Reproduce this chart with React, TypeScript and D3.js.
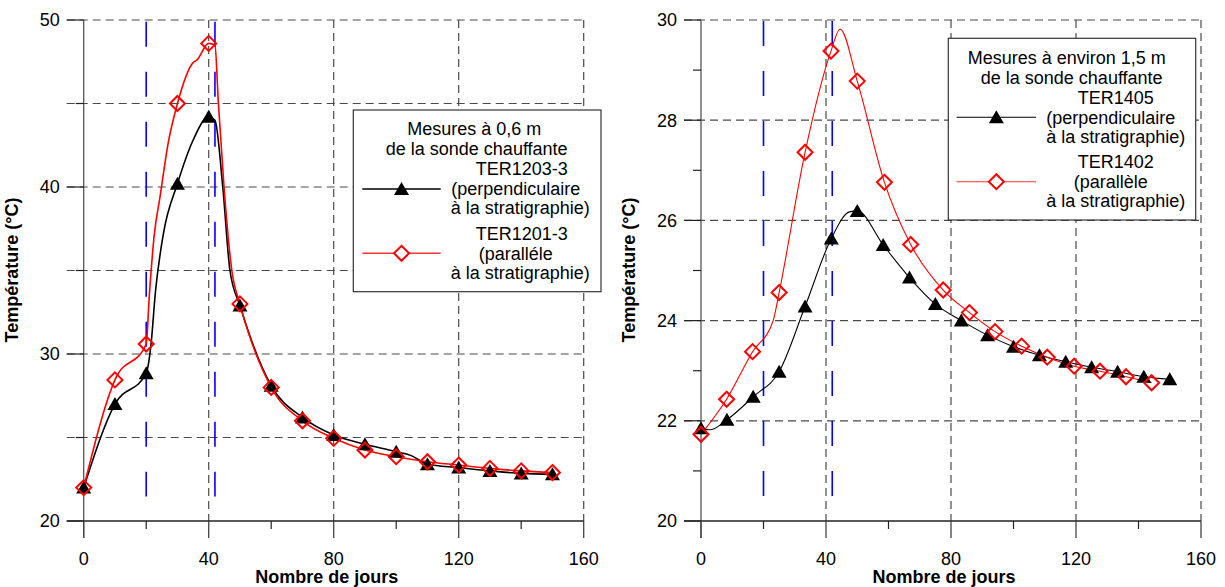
import React from "react";
import * as d3 from "d3";

// ---------- Data: left panel (0,6 m) ----------
const leftDays = [0, 10, 20, 30, 40, 50, 60, 70, 80, 90, 100, 110, 120, 130, 140, 150];
const leftTER1203 = [22.0, 27.0, 28.85, 40.2, 44.2, 32.9, 28.1, 26.2, 25.15, 24.6, 24.15, 23.4, 23.2, 23.0, 22.85, 22.8];
const leftTER1201 = [22.0, 28.45, 30.6, 45.0, 48.6, 33.0, 28.0, 26.0, 24.95, 24.25, 23.85, 23.55, 23.35, 23.15, 23.0, 22.9];
// extra points (between markers)
const leftTER1203CurveDays = [21.5, 23, 25.5, 35, 42, 44.5, 46.8, 105];
const leftTER1203CurveTemps = [30.5, 33.8, 37.2, 42.8, 44.0, 40.0, 35.0, 23.9];
const leftTER1201CurveDays = [21, 22.5, 24.5, 27, 35, 36.2, 42, 43.1, 44.9, 47.4];
const leftTER1201CurveTemps = [33.5, 37.0, 39.5, 42.6, 47.45, 47.6, 48.5, 45.0, 40.0, 35.0];

// ---------- Data: right panel (1,5 m) ----------
const rightTER1405Days = [0, 8.3, 16.7, 25, 33.3, 41.7, 50, 58.3, 66.7, 75, 83.3, 91.7, 100, 108.3, 116.7, 125, 133.3, 141.7, 150];
const rightTER1405 = [21.85, 22.02, 22.48, 22.98, 24.28, 25.64, 26.19, 25.51, 24.86, 24.33, 24.0, 23.71, 23.48, 23.31, 23.18, 23.07, 22.98, 22.88, 22.83];
const rightTER1402Days = [0, 8.2, 16.5, 25, 33.3, 41.6, 50, 58.7, 67.1, 77.5, 85.9, 94.1, 102.6, 110.8, 119.4, 127.7, 136, 144.2];
const rightTER1402 = [21.73, 22.43, 23.38, 24.56, 27.36, 29.38, 28.78, 26.76, 25.52, 24.61, 24.16, 23.78, 23.49, 23.27, 23.09, 22.99, 22.88, 22.76];
const rightTER1405CurveDays = [3, 47.5];
const rightTER1405CurveTemps = [21.82, 26.17];
const rightTER1402CurveDays = [23.1, 44.5];
const rightTER1402CurveTemps = [24.0, 29.82];

// ---------- Axes ----------
const xMajorTicks = [0, 40, 80, 120, 160];
const xMinorTicks = [20, 60, 100, 140];
const xGridTicks = [40, 80, 120, 160];
const leftYMajor = [20, 30, 40, 50];
const leftYMinor = [25, 35, 45];
const leftYGrid = [25, 30, 35, 40, 45, 50];
const rightYMajor = [20, 22, 24, 26, 28, 30];
const rightYMinor = [21, 23, 25, 27, 29];
const rightYGrid = [22, 24, 26, 28, 30];
const heatingDays = [20, 42];

const leftLegendLines = ["Mesures à 0,6 m", "de la sonde chauffante", "TER1203-3", "(perpendiculaire", "à la stratigraphie)", "TER1201-3", "(paralléle", "à la stratigraphie)"];
const rightLegendLines = ["Mesures à environ 1,5 m", "de la sonde chauffante", "TER1405", "(perpendiculaire", "à la stratigraphie)", "TER1402", "(parallèle", "à la stratigraphie)"];

const FONT = "'Liberation Sans', Arial, Helvetica, sans-serif";
const GRID = "#4a4a4a";

type Pt = [number, number];
const zip = (a: number[], b: number[]): Pt[] => a.map((d, i) => [d, b[i]]);
const merge = (a: Pt[], b: Pt[]): Pt[] => [...a, ...b].sort((p, q) => p[0] - q[0]);

const triPath = "M0,-7L7.5,6L-7.5,6Z";
const diaPath = "M0,-7.5L7.5,0L0,7.5L-7.5,0Z";

interface PanelProps {
  x0: number; x1: number; yDomain: [number, number];
  yMajor: number[]; yMinor: number[]; yGrid: number[];
  black: Pt[]; blackCurve: Pt[]; red: Pt[]; redCurve: Pt[];
  lineW: number; blueRange: [number, number];
  legend: { x: number; y: number; w: number; h: number; lines: string[]; centers: number[]; baselines: number[]; sampleX: [number, number]; sampleY: [number, number] };
}

function Panel(p: PanelProps) {
  const x = d3.scaleLinear().domain([0, 160]).range([p.x0, p.x1]);
  const y = d3.scaleLinear().domain(p.yDomain).range([521, 20]);
  const line = d3.line<Pt>().x(d => x(d[0])).y(d => y(d[1])).curve(d3.curveMonotoneX);
  const yb = y(p.yDomain[0]);
  const yt = y(p.yDomain[1]);
  const L = p.legend;
  return (
    <g>
      {p.yGrid.map(v => (
        <line key={"hg" + v} x1={x(0) - 17} x2={x(160)} y1={y(v)} y2={y(v)} stroke={GRID} strokeWidth={1.2} strokeDasharray="8,5" />
      ))}
      {xGridTicks.map(v => (
        <line key={"vg" + v} x1={x(v)} x2={x(v)} y1={yt} y2={yb} stroke={GRID} strokeWidth={1.2} strokeDasharray="8,5" />
      ))}
      {heatingDays.map(v => (
        <line key={"bl" + v} x1={x(v)} x2={x(v)} y1={y(p.blueRange[1])} y2={y(p.blueRange[0])} stroke="#0000ff" strokeWidth={1.6} strokeDasharray="25,25" />
      ))}
      <line x1={x(0)} x2={x(0)} y1={yt} y2={yb + 17} stroke="#555" strokeWidth={1.3} />
      <line x1={x(0) - 17} x2={x(160)} y1={yb} y2={yb} stroke="#222" strokeWidth={1.3} />
      {p.yMajor.map(v => (
        <line key={"ym" + v} x1={x(0) - 17} x2={x(0)} y1={y(v)} y2={y(v)} stroke="#222" strokeWidth={1.2} />
      ))}
      {p.yMinor.map(v => (
        <line key={"yn" + v} x1={x(0) - 8} x2={x(0)} y1={y(v)} y2={y(v)} stroke="#222" strokeWidth={1.2} />
      ))}
      {xMajorTicks.map(v => (
        <line key={"xm" + v} x1={x(v)} x2={x(v)} y1={yb} y2={yb + 17} stroke="#444" strokeWidth={1.3} />
      ))}
      {xMinorTicks.map(v => (
        <line key={"xn" + v} x1={x(v)} x2={x(v)} y1={yb} y2={yb + 8} stroke="#222" strokeWidth={1.2} />
      ))}
      {p.yMajor.map(v => (
        <text key={"yl" + v} x={x(0) - 24} y={y(v)} dy="0.36em" textAnchor="end" fontSize={18} fontFamily={FONT}>{v}</text>
      ))}
      {xMajorTicks.map(v => (
        <text key={"xl" + v} x={x(v)} y={564.5} textAnchor="middle" fontSize={18} fontFamily={FONT}>{v}</text>
      ))}
      <text x={x(0) + 243} y={583} textAnchor="middle" fontSize={18} fontWeight="bold" fontFamily={FONT}>Nombre de jours</text>
      <text transform={`translate(${x(0) - 66},270) rotate(-90)`} textAnchor="middle" fontSize={18} fontWeight="bold" fontFamily={FONT}>Température (°C)</text>
      <path d={line(p.blackCurve) || ""} fill="none" stroke="#000" strokeWidth={p.lineW} />
      <path d={line(p.redCurve) || ""} fill="none" stroke="#ff0000" strokeWidth={p.lineW} />
      {p.black.map((d, i) => (
        <path key={"tb" + i} d={triPath} transform={`translate(${x(d[0])},${y(d[1])})`} fill="#000" />
      ))}
      {p.red.map((d, i) => (
        <path key={"dr" + i} d={diaPath} transform={`translate(${x(d[0])},${y(d[1])})`} fill="none" stroke="#ff0000" strokeWidth={2} />
      ))}
      <rect x={L.x} y={L.y} width={L.w} height={L.h} fill="#fff" stroke="#333" strokeWidth={1.2} />
      {L.lines.map((t, i) => (
        <text key={"lg" + i} x={L.centers[i]} y={L.baselines[i]} textAnchor="middle" fontSize={18} fontFamily={FONT}>{t}</text>
      ))}
      <line x1={L.sampleX[0]} x2={L.sampleX[1]} y1={L.sampleY[0]} y2={L.sampleY[0]} stroke="#000" strokeWidth={p.lineW} />
      <path d={triPath} transform={`translate(${(L.sampleX[0] + L.sampleX[1]) / 2},${L.sampleY[0]})`} fill="#000" />
      <line x1={L.sampleX[0]} x2={L.sampleX[1]} y1={L.sampleY[1]} y2={L.sampleY[1]} stroke="#ff3333" strokeWidth={p.lineW} />
      <path d={diaPath} transform={`translate(${(L.sampleX[0] + L.sampleX[1]) / 2},${L.sampleY[1]})`} fill="#fff" stroke="#ff0000" strokeWidth={2} />
    </g>
  );
}

export default function App() {
  const lb = zip(leftDays, leftTER1203);
  const lr = zip(leftDays, leftTER1201);
  const rb = zip(rightTER1405Days, rightTER1405);
  const rr = zip(rightTER1402Days, rightTER1402);
  return (
    <svg width={1225} height={587} style={{ position: "absolute", left: 0, top: 0, background: "#fff" }}>
      <rect width={1225} height={587} fill="#fff" />
      <Panel
        x0={83.7} x1={583.7} yDomain={[20, 50]}
        yMajor={leftYMajor} yMinor={leftYMinor} yGrid={leftYGrid}
        black={lb} blackCurve={merge(lb, zip(leftTER1203CurveDays, leftTER1203CurveTemps))}
        red={lr} redCurve={merge(lr, zip(leftTER1201CurveDays, leftTER1201CurveTemps))}
        lineW={1.6} blueRange={[21.47, 49.9]}
        legend={{
          x: 353.3, y: 110, w: 247.7, h: 181.7, lines: leftLegendLines,
          centers: [474.3, 476.7, 521.7, 515.7, 520.3, 521.7, 515.7, 520.3],
          baselines: [135, 154.5, 175, 195, 213.5, 240, 260, 279],
          sampleX: [362.3, 440.7], sampleY: [189, 253.3],
        }}
      />
      <Panel
        x0={701} x1={1201} yDomain={[20, 30]}
        yMajor={rightYMajor} yMinor={rightYMinor} yGrid={rightYGrid}
        black={rb} blackCurve={merge(rb, zip(rightTER1405CurveDays, rightTER1405CurveTemps))}
        red={rr} redCurve={merge(rr, zip(rightTER1402CurveDays, rightTER1402CurveTemps))}
        lineW={1.1} blueRange={[20.49, 29.98]}
        legend={{
          x: 948.3, y: 38.3, w: 247.4, h: 181.7, lines: rightLegendLines,
          centers: [1066.7, 1071.7, 1115.7, 1110.7, 1115.7, 1115.7, 1110.7, 1115.7],
          baselines: [64, 83.5, 104, 123.5, 143, 168.3, 187.5, 206.5],
          sampleX: [956.7, 1036], sampleY: [117.3, 181.7],
        }}
      />
    </svg>
  );
}
